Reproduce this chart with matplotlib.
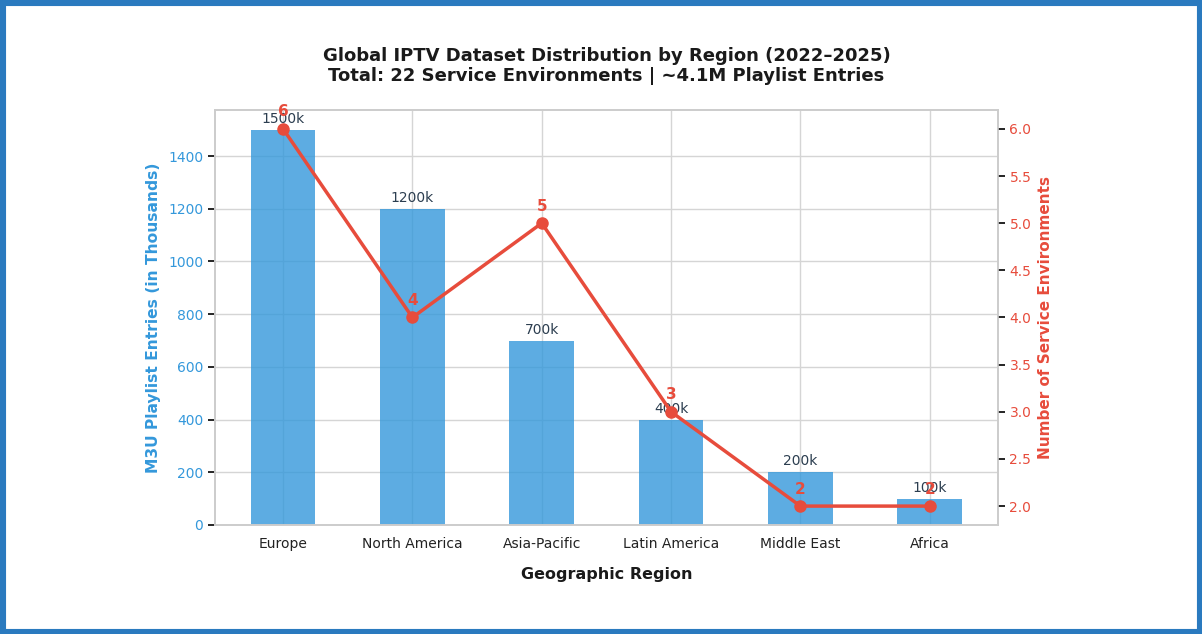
import matplotlib
matplotlib.use("Agg")
import matplotlib.pyplot as plt
import numpy as np
from matplotlib.patches import Rectangle

regions = ["Europe", "North America", "Asia-Pacific", "Latin America", "Middle East", "Africa"]
entries_k = [1500, 1200, 700, 400, 200, 100]
environments = [6, 4, 5, 3, 2, 2]

BLUE = "#3498db"
RED = "#e74c3c"
DARK = "#2c3e50"

plt.rcParams['font.family'] = ['DejaVu Sans']
fig = plt.figure(figsize=(12.02, 6.34), dpi=100)
ax = fig.add_axes([0.179, 0.172, 0.651, 0.6545])
x = np.arange(len(regions))

ax.set_axisbelow(True)
ax.grid(True, color="#d5d5d5", linewidth=1.0)
bars = ax.bar(x, entries_k, width=0.5, color=BLUE, alpha=0.8)
for xi, v in zip(x, entries_k):
    ax.text(xi, v + 15, f"{v}k", ha="center", va="bottom", fontsize=10, color=DARK)

ax.set_xticks(x)
ax.set_xticklabels(regions, fontsize=10, color="#222222")
ax.tick_params(axis="x", length=0, pad=9)
ax.tick_params(axis="y", length=5, width=1.2, color="black", labelcolor=BLUE, labelsize=10)
ax.set_ylabel("M3U Playlist Entries (in Thousands)", color=BLUE, fontsize=11.2, fontweight="bold", labelpad=5)
ax.set_xlabel("Geographic Region", fontsize=11.5, fontweight="bold", labelpad=11, color="#1a1a1a")
for s in ax.spines.values():
    s.set_color("#cccccc")
    s.set_linewidth(1.2)

ax2 = ax.twinx()
ax2.plot(x, environments, color=RED, linewidth=2.5, marker="o", markersize=8)
for xi, v in zip(x, environments):
    ax2.text(xi, v + 0.1, f"{v}", ha="center", va="bottom", fontsize=11, fontweight="bold", color=RED)
ax2.set_ylabel("Number of Service Environments", color=RED, fontsize=11, fontweight="bold", labelpad=5)
ax2.tick_params(axis="y", length=5, width=1.2, color="black", labelcolor=RED, labelsize=10)
ax2.grid(False)
for s in ax2.spines.values():
    s.set_color("#cccccc")
    s.set_linewidth(1.2)

ax.set_title("Global IPTV Dataset Distribution by Region (2022\u20132025)\nTotal: 22 Service Environments | ~4.1M Playlist Entries",
             fontsize=13, fontweight="bold", pad=21, color="#1a1a1a", linespacing=1.1)

fig.add_artist(Rectangle((0, 0), 1, 1, transform=fig.transFigure, fill=False,
                         edgecolor="#2a7abf", linewidth=8, clip_on=False))
fig.savefig("out.png", dpi=100)
